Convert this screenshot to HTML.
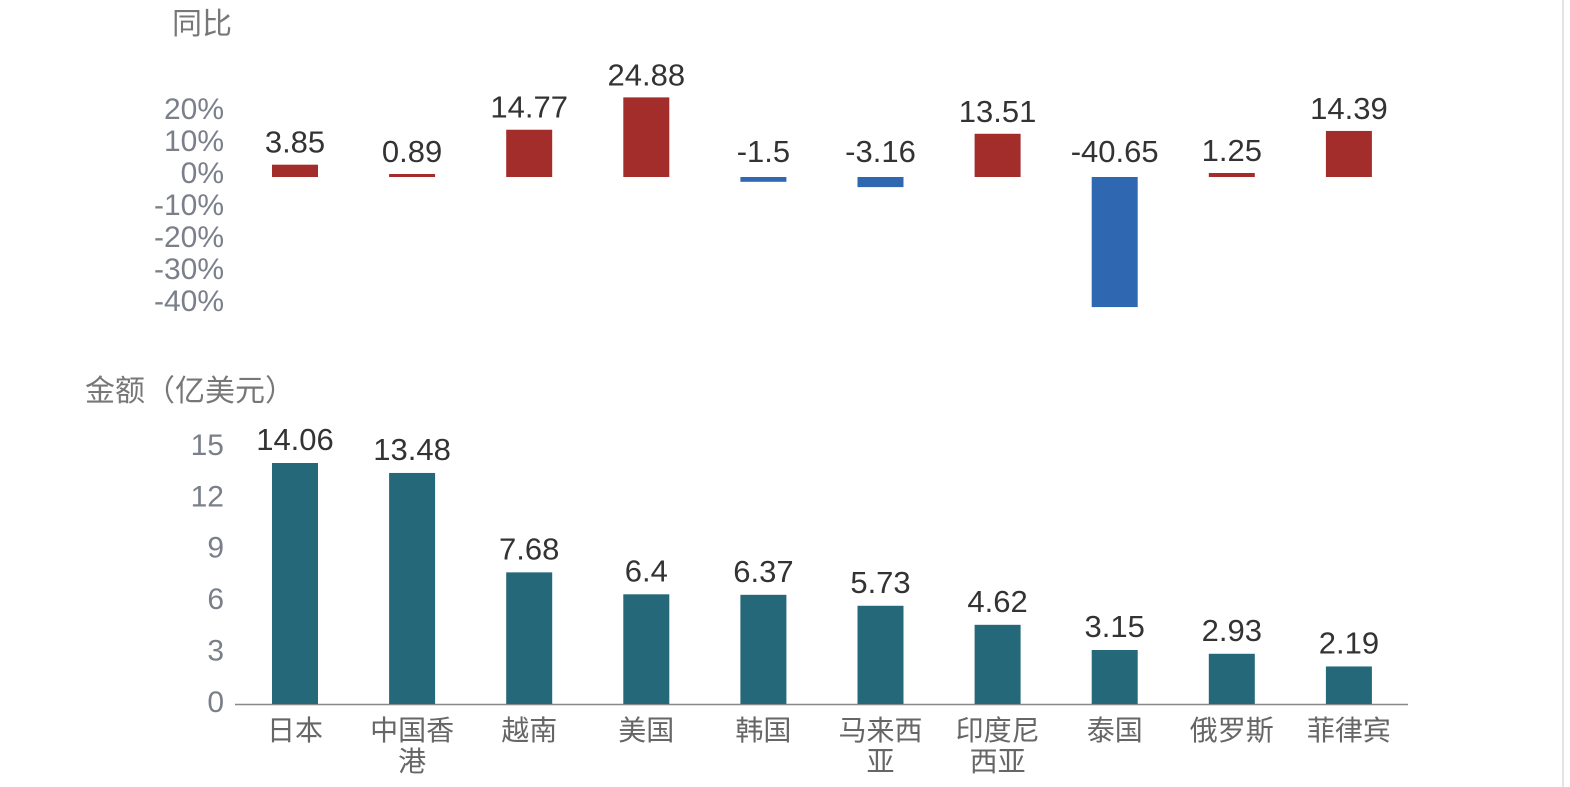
<!DOCTYPE html>
<html><head><meta charset="utf-8">
<style>
html,body{margin:0;padding:0;background:#fff;}
svg{display:block;font-family:"Liberation Sans","Noto Sans CJK SC",sans-serif;}
</style></head>
<body>
<svg id="chart" width="1570" height="787" viewBox="0 0 1570 787" xmlns="http://www.w3.org/2000/svg">
<text x="172" y="34" font-size="30" fill="#777">同比</text>
<text x="85" y="401" font-size="30" fill="#777">金额（亿美元）</text>
<line x1="235" y1="704.5" x2="1408" y2="704.5" stroke="#888" stroke-width="1.5"/>
<line x1="1563" y1="0" x2="1563" y2="787" stroke="#e4e4e4" stroke-width="2"/>
<g id="top"></g><g id="bottom"></g><g id="cats"></g>
</svg>
<script>
const categories = ["日本","中国香港","越南","美国","韩国","马来西亚","印度尼西亚","泰国","俄罗斯","菲律宾"];
const catLines = [["日本"],["中国香","港"],["越南"],["美国"],["韩国"],["马来西","亚"],["印度尼","西亚"],["泰国"],["俄罗斯"],["菲律宾"]];
const yoyValues = [3.85,0.89,14.77,24.88,-1.5,-3.16,13.51,-40.65,1.25,14.39];
const amountValues = [14.06,13.48,7.68,6.4,6.37,5.73,4.62,3.15,2.93,2.19];
const yoyTicks = [20,10,0,-10,-20,-30,-40];
const amountTicks = [0,3,6,9,12,15];

const NS="http://www.w3.org/2000/svg";
const svg=document.getElementById('chart');
const gTop=document.getElementById('top'), gBot=document.getElementById('bottom'), gCat=document.getElementById('cats');
function mk(tag,attrs,parent){const e=document.createElementNS(NS,tag);for(const k in attrs)e.setAttribute(k,attrs[k]);parent.appendChild(e);return e;}
const xCenter=i=>295+i*117.1;
const barW=46;
const yYoy=v=>177-v*3.2;
const yAmt=v=>704-v*17.14;

yoyTicks.forEach(t=>{
  const e=mk('text',{x:224,y:yYoy(t)+6,'text-anchor':'end','font-size':30,fill:'#7a7f8a'},gTop);
  
  
  e.textContent=t+'%';
});
yoyValues.forEach((v,i)=>{
  const y0=yYoy(0),y1=yYoy(v);
  const h=Math.max(Math.abs(y1-y0),3);
  const r=mk('rect',{x:xCenter(i)-barW/2,y:v>=0?y0-h:y0,width:barW,height:h,fill:v>=0?'#a32d2b':'#2f68b1'},gTop);
  
  
  const ly=v>=0?y0-h-12:y0-15;
  const t=mk('text',{x:xCenter(i),y:ly,'text-anchor':'middle','font-size':31,fill:'#333'},gTop);
  
  
  t.textContent=String(v);
});
amountTicks.forEach(t=>{
  const e=mk('text',{x:224,y:yAmt(t)+8,'text-anchor':'end','font-size':30,fill:'#7a7f8a'},gBot);
  
  
  e.textContent=String(t);
});
amountValues.forEach((v,i)=>{
  const y1=yAmt(v);
  const r=mk('rect',{x:xCenter(i)-barW/2,y:y1,width:barW,height:704-y1,fill:'#25687a'},gBot);
  
  
  const t=mk('text',{x:xCenter(i),y:y1-13,'text-anchor':'middle','font-size':31,fill:'#333'},gBot);
  
  
  t.textContent=String(v);
});
catLines.forEach((lines,i)=>{
  lines.forEach((s,j)=>{
    const t=mk('text',{x:xCenter(i),y:740+j*31,'text-anchor':'middle','font-size':28,fill:'#666'},gCat);
    
    
    t.textContent=s;
  });
});
</script>
</body></html>
